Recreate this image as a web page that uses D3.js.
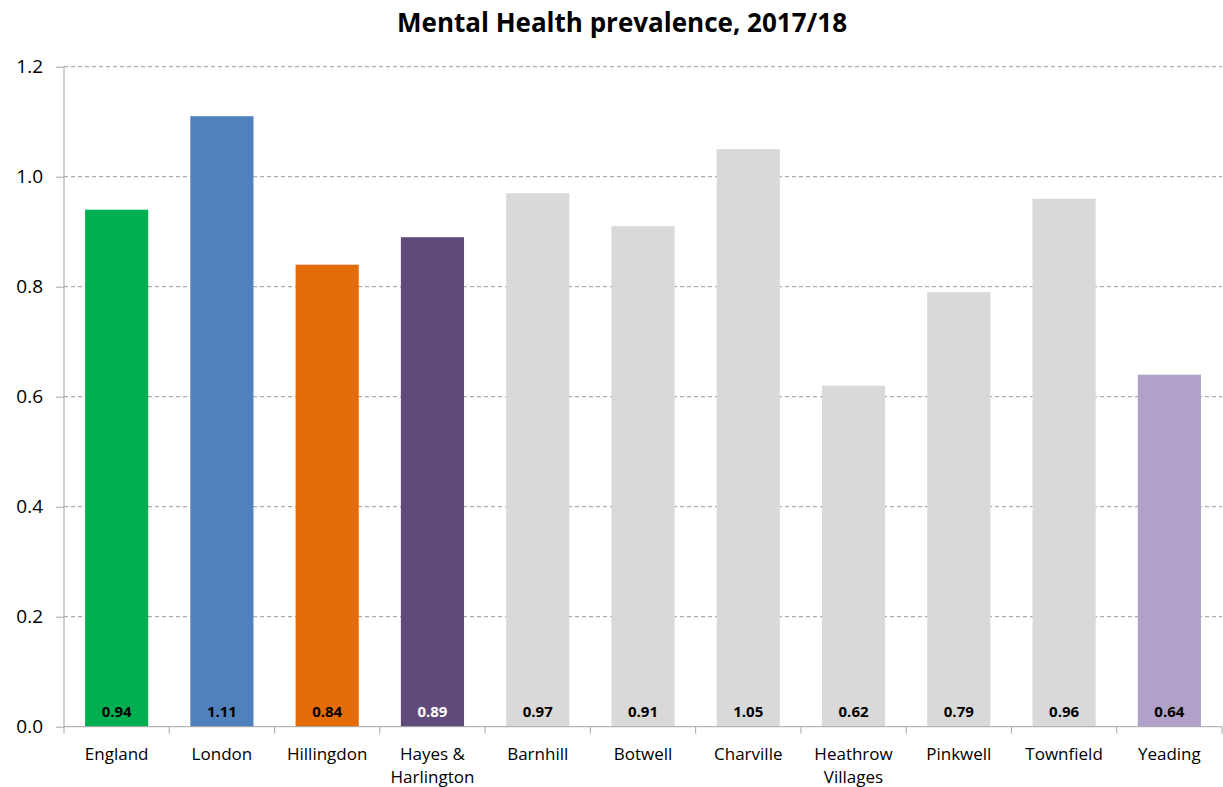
<!DOCTYPE html>
<html><head><meta charset="utf-8">
<script src="https://cdn.jsdelivr.net/npm/d3@7"></script>
<style>body{margin:0;background:#fff;font-family:"Open Sans",sans-serif;}</style>
</head><body><svg id="c" width="1223" height="787"></svg>
<script>
const categories = ["England","London","Hillingdon","Hayes & Harlington","Barnhill","Botwell","Charville","Heathrow Villages","Pinkwell","Townfield","Yeading"];
const labelLines = [["England"],["London"],["Hillingdon"],["Hayes &","Harlington"],["Barnhill"],["Botwell"],["Charville"],["Heathrow","Villages"],["Pinkwell"],["Townfield"],["Yeading"]];
const values = [0.94,1.11,0.84,0.89,0.97,0.91,1.05,0.62,0.79,0.96,0.64];
const colors = ["#00B050","#4F81BD","#E46C0A","#604A7B","#D9D9D9","#D9D9D9","#D9D9D9","#D9D9D9","#D9D9D9","#D9D9D9","#B1A0C7"];
const labelColors = ["#000","#000","#000","#fff","#000","#000","#000","#000","#000","#000","#000"];
const yTicks = [0,0.2,0.4,0.6,0.8,1.0,1.2];
const title = "Mental Health prevalence, 2017/18";

const svg = d3.select("#c").style("font-family","'Open Sans', sans-serif");
const mLeft = 64, mRight = 1222, mTop = 66.7, mBottom = 726.7;
const x = d3.scaleBand().domain(categories).range([mLeft, mRight]).paddingInner(0.4).paddingOuter(0.2);
const y = d3.scaleLinear().domain([0,1.2]).range([mBottom, mTop]);

svg.append("text").attr("x", 622).attr("y", 32).attr("text-anchor","middle")
  .attr("font-size", 26).attr("font-weight","bold").attr("fill","#000").text(title);

// gridlines
svg.append("g").selectAll("line").data(yTicks.filter(d=>d>0)).join("line")
  .attr("x1", mLeft).attr("x2", mRight).attr("y1", d=>y(d)).attr("y2", d=>y(d))
  .attr("stroke","#999").attr("stroke-dasharray","4,3").attr("stroke-width",1);

// bars
svg.append("g").selectAll("rect").data(values).join("rect")
  .attr("x",(d,i)=>x(categories[i])).attr("width", x.bandwidth())
  .attr("y", d=>y(d)).attr("height", d=>mBottom - y(d))
  .attr("fill",(d,i)=>colors[i]);

// value labels
svg.append("g").selectAll("text").data(values).join("text")
  .attr("x",(d,i)=>x(categories[i]) + x.bandwidth()/2).attr("y", mBottom - 10)
  .attr("text-anchor","middle").attr("font-size",15).attr("font-weight","bold")
  .attr("fill",(d,i)=>labelColors[i]).text(d=>d.toFixed(2));

// y axis
const yAxis = d3.axisLeft(y).tickValues(yTicks).tickFormat(d3.format(".1f")).tickSize(8).tickPadding(13);
const gy = svg.append("g").attr("transform",`translate(${mLeft},0)`).call(yAxis);
gy.select(".domain").attr("stroke","#a6a6a6").attr("d",`M0,${mTop}V${mBottom}`);
gy.selectAll(".tick line").attr("stroke","#a6a6a6");
gy.selectAll(".tick text").attr("font-size",19).attr("fill","#000").attr("font-family","'Open Sans', sans-serif");

// x axis
const gx = svg.append("g").attr("transform",`translate(0,${mBottom})`);
gx.append("line").attr("x1",mLeft).attr("x2",mRight).attr("stroke","#a6a6a6");
const step = x.step();
const bounds = categories.map((c,i)=>x(c) - x.paddingInner()*step/2).concat([mRight]);
gx.selectAll("line.tk").data(bounds).join("line").attr("class","tk")
  .attr("x1",d=>d).attr("x2",d=>d).attr("y1",0).attr("y2",7).attr("stroke","#a6a6a6");
const lbl = gx.selectAll("text.cat").data(categories).join("text").attr("class","cat")
  .attr("x",c=>x(c)+x.bandwidth()/2).attr("text-anchor","middle").attr("font-size",17).attr("fill","#000");
lbl.each(function(c,i){
  d3.select(this).selectAll("tspan").data(labelLines[i]).join("tspan")
    .attr("x",x(c)+x.bandwidth()/2).attr("y",(d,j)=>33 + j*23).text(d=>d);
});
</script></body></html>
